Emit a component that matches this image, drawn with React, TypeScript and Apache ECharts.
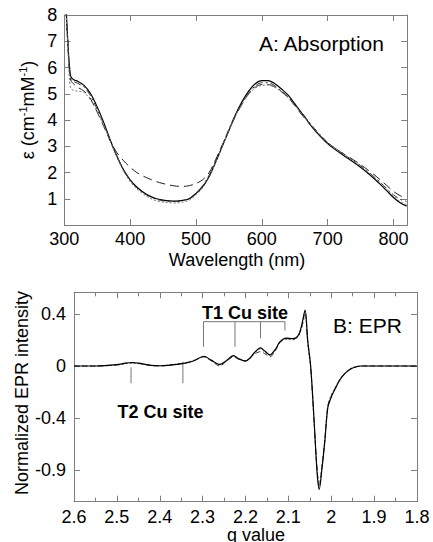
import React, { useEffect, useRef } from "react";
import * as echarts from "echarts";

// ---------- Panel A: absorption ----------
const wavelengths = [300, 302, 304, 306, 308, 310, 315, 320, 330, 340, 350, 360, 370, 380, 390, 400, 410, 420, 430, 440, 450, 460, 470, 480, 490, 500, 510, 520, 530, 540, 550, 560, 570, 580, 590, 600, 610, 620, 630, 640, 650, 660, 670, 680, 690, 700, 710, 720, 730, 740, 750, 760, 770, 780, 790, 800, 810, 820];
const absSolid = [8.8, 8.6, 7.6, 6.7, 6.0, 5.65, 5.52, 5.48, 5.32, 5.0, 4.5, 3.9, 3.22, 2.62, 2.1, 1.72, 1.45, 1.25, 1.1, 1.0, 0.95, 0.92, 0.91, 0.94, 1.0, 1.2, 1.45, 1.85, 2.4, 3.0, 3.6, 4.2, 4.7, 5.1, 5.38, 5.5, 5.5, 5.38, 5.18, 4.95, 4.62, 4.28, 3.95, 3.62, 3.35, 3.1, 2.9, 2.72, 2.55, 2.38, 2.2, 2.0, 1.78, 1.55, 1.3, 1.05, 0.85, 0.72];
const absDash = [8.8, 8.3, 7.5, 6.6, 5.8, 5.5, 5.35, 5.25, 5.1, 4.8, 4.3, 3.75, 3.2, 2.75, 2.45, 2.2, 2.0, 1.86, 1.75, 1.65, 1.58, 1.52, 1.48, 1.47, 1.5, 1.58, 1.72, 2.0, 2.5, 3.05, 3.6, 4.15, 4.6, 5.0, 5.25, 5.35, 5.35, 5.25, 5.08, 4.85, 4.55, 4.22, 3.92, 3.63, 3.37, 3.13, 2.95, 2.78, 2.62, 2.47, 2.3, 2.12, 1.93, 1.72, 1.5, 1.28, 1.12, 1.02];
const absDashDot = [8.8, 8.4, 7.5, 6.6, 5.9, 5.55, 5.45, 5.4, 5.25, 4.92, 4.4, 3.85, 3.2, 2.6, 2.1, 1.7, 1.42, 1.22, 1.08, 0.98, 0.92, 0.9, 0.9, 0.93, 1.02, 1.22, 1.5, 1.9, 2.45, 3.05, 3.65, 4.2, 4.65, 5.02, 5.3, 5.42, 5.42, 5.3, 5.1, 4.88, 4.58, 4.3, 3.98, 3.68, 3.4, 3.15, 2.95, 2.78, 2.6, 2.44, 2.26, 2.06, 1.85, 1.63, 1.38, 1.15, 0.98, 0.9];
const absDot = [8.8, 8.3, 7.4, 6.4, 5.5, 5.2, 5.12, 5.1, 5.05, 4.75, 4.3, 3.78, 3.18, 2.58, 2.05, 1.65, 1.38, 1.18, 1.02, 0.92, 0.87, 0.85, 0.84, 0.87, 0.95, 1.15, 1.42, 1.82, 2.38, 3.0, 3.6, 4.15, 4.6, 4.98, 5.22, 5.32, 5.33, 5.24, 5.06, 4.85, 4.56, 4.24, 3.95, 3.66, 3.38, 3.12, 2.93, 2.76, 2.58, 2.42, 2.24, 2.04, 1.82, 1.6, 1.35, 1.1, 0.9, 0.78];
const xTicksA = [300, 400, 500, 600, 700, 800];
const yTicksA = [1, 2, 3, 4, 5, 6, 7, 8];

// ---------- Panel B: EPR ----------
const gValues = [2.6, 2.55, 2.5, 2.48, 2.465, 2.45, 2.42, 2.4, 2.38, 2.36, 2.34, 2.32, 2.297, 2.28, 2.26, 2.245, 2.228, 2.215, 2.2, 2.19, 2.18, 2.165, 2.155, 2.143, 2.13, 2.12, 2.105, 2.09, 2.078, 2.07, 2.061, 2.055, 2.048, 2.04, 2.033, 2.028, 2.022, 2.015, 2.008, 2.0, 1.99, 1.98, 1.97, 1.96, 1.95, 1.93, 1.9, 1.85, 1.8];
const eprSolid = [0, 0, 0.01, 0.022, 0.027, 0.022, 0.005, 0.002, 0.005, 0.012, 0.022, 0.04, 0.075, 0.045, 0.012, 0.04, 0.08, 0.055, 0.038, 0.06, 0.1, 0.14, 0.115, 0.085, 0.13, 0.185, 0.215, 0.21, 0.23, 0.3, 0.43, 0.2, 0.0, -0.42, -0.82, -0.95, -0.8, -0.58, -0.32, -0.24, -0.17, -0.108, -0.065, -0.035, -0.015, 0, 0, 0, 0];
const eprDash = [0, 0, 0.008, 0.02, 0.025, 0.02, 0.004, 0.0, 0.006, 0.014, 0.024, 0.042, 0.07, 0.04, 0.0, 0.035, 0.07, 0.05, 0.04, 0.058, 0.09, 0.11, 0.095, 0.07, 0.12, 0.18, 0.21, 0.205, 0.225, 0.29, 0.41, 0.19, -0.01, -0.43, -0.8, -0.93, -0.79, -0.57, -0.31, -0.23, -0.165, -0.105, -0.062, -0.033, -0.013, 0, 0, 0, 0];
const eprDot = [0, 0, 0.006, 0.018, 0.02, 0.018, 0.004, 0.002, 0.008, 0.016, 0.026, 0.044, 0.07, 0.042, 0.008, 0.038, 0.075, 0.052, 0.04, 0.06, 0.095, 0.13, 0.105, 0.08, 0.125, 0.18, 0.205, 0.2, 0.22, 0.28, 0.38, 0.17, -0.02, -0.44, -0.8, -0.9, -0.77, -0.56, -0.3, -0.22, -0.16, -0.1, -0.06, -0.03, -0.01, 0, 0, 0, 0];
const xTicksB = [2.6, 2.5, 2.4, 2.3, 2.2, 2.1, 2.0, 1.9, 1.8];
const yTickValuesB = [0.4, 0, -0.4, -0.8];
const yTickLabelsB = ["0.4", "0", "-0.4", "-0.9"];

// hyperfine marker positions (g) and their line ends (intensity)
const t1G = [2.298, 2.2245, 2.165, 2.108];
const t1Ends = [0.148, 0.148, 0.213, 0.272];
const t1Bar = 0.341;
const t2G = [2.467, 2.346];
const t2Starts = [-0.01, 0.033];
const t2Ends = [-0.133, -0.133];

const FONT = "'Liberation Sans', Arial, Helvetica, sans-serif";
const FRAME = "#7f7f7f";

function frameAxis(extra: any) {
  return {
    type: "value",
    axisLine: { show: true, onZero: false, lineStyle: { color: FRAME, width: 1 } },
    axisTick: { show: true, inside: true, length: 6, lineStyle: { color: FRAME } },
    splitLine: { show: false },
    axisLabel: { show: false },
    ...extra,
  };
}

export default function App() {
  const ref = useRef<HTMLDivElement>(null);
  useEffect(() => {
    if (!ref.current) return;
    const chart = echarts.init(ref.current, null, { renderer: "svg" });
    const labelStyle = { color: "#000", fontSize: 18, fontFamily: FONT };

    const pair = (xs: number[], ys: number[]) => xs.map((x, i) => [x, ys[i]]);
    const absSeries = [
      { d: absSolid, color: "#000", type: "solid", w: 1.2 },
      { d: absDash, color: "#222", type: [9, 5], w: 1 },
      { d: absDashDot, color: "#333", type: [7, 3, 2, 3], w: 1 },
      { d: absDot, color: "#777", type: [2, 2], w: 1 },
    ].map((s) => ({
      type: "line",
      xAxisIndex: 0,
      yAxisIndex: 0,
      data: pair(wavelengths, s.d),
      showSymbol: false,
      smooth: 0.3,
      lineStyle: { color: s.color, width: s.w, type: s.type },
    }));
    const eprSeries = [
      { d: eprDot, color: "#888", type: [2, 2], w: 1 },
      { d: eprDash, color: "#333", type: [5, 3], w: 1 },
      { d: eprSolid, color: "#000", type: "solid", w: 1.2 },
    ].map((s) => ({
      type: "line",
      xAxisIndex: 2,
      yAxisIndex: 2,
      data: pair(gValues, s.d),
      showSymbol: false,
      smooth: 0.3,
      lineStyle: { color: s.color, width: s.w, type: s.type },
    }));
    const markerLine = (data: number[][]) => ({
      type: "line",
      xAxisIndex: 2,
      yAxisIndex: 2,
      data,
      showSymbol: false,
      silent: true,
      lineStyle: { color: "#777", width: 1 },
    });
    const markers = [
      markerLine([[t1G[0], t1Bar], [t1G[t1G.length - 1], t1Bar]]),
      ...t1G.map((g, i) => markerLine([[g, t1Bar], [g, t1Ends[i]]])),
      ...t2G.map((g, i) => markerLine([[g, t2Starts[i]], [g, t2Ends[i]]])),
    ];

    const option: any = {
      animation: false,
      backgroundColor: "#fff",
      grid: [
        { left: 64.3, top: 15, width: 343, height: 210 },
        { left: 74, top: 292.3, width: 343, height: 209.4 },
      ],
      xAxis: [
        frameAxis({
          gridIndex: 0, position: "bottom", min: 300, max: 821,
          axisLabel: { show: true, customValues: xTicksA, margin: 5, ...labelStyle },
          axisTick: { show: true, inside: true, length: 6, lineStyle: { color: FRAME }, customValues: xTicksA },
        }),
        frameAxis({
          gridIndex: 0, position: "top", min: 300, max: 821,
          axisTick: { show: true, inside: true, length: 6, lineStyle: { color: FRAME }, customValues: xTicksA },
        }),
        frameAxis({
          gridIndex: 1, position: "bottom", min: 1.8, max: 2.6, interval: 0.1, inverse: true,
          minorTick: { show: true, splitNumber: 2, length: 4, lineStyle: { color: FRAME } },
          axisLabel: {
            show: true, customValues: xTicksB, margin: 6, ...labelStyle,
            formatter: (v: number) => String(parseFloat(v.toFixed(1))),
          },
        }),
        frameAxis({
          gridIndex: 1, position: "top", min: 1.8, max: 2.6, interval: 0.1, inverse: true,
          minorTick: { show: true, splitNumber: 2, length: 4, lineStyle: { color: FRAME } },
        }),
      ],
      yAxis: [
        frameAxis({
          gridIndex: 0, position: "left", min: 0, max: 8, interval: 1,
          axisLabel: { show: true, customValues: yTicksA, margin: 7, ...labelStyle },
        }),
        frameAxis({ gridIndex: 0, position: "right", min: 0, max: 8, interval: 1 }),
        frameAxis({
          gridIndex: 1, position: "left", min: -1.044, max: 0.567,
          axisTick: { show: true, inside: true, length: 6, lineStyle: { color: FRAME }, customValues: yTickValuesB },
          axisLabel: {
            show: true, customValues: yTickValuesB, margin: 8, ...labelStyle,
            formatter: (v: number) => {
              const i = yTickValuesB.findIndex((t) => Math.abs(t - v) < 1e-6);
              return i >= 0 ? yTickLabelsB[i] : "";
            },
          },
        }),
        frameAxis({
          gridIndex: 1, position: "right", min: -1.044, max: 0.567,
          axisTick: { show: true, inside: true, length: 6, lineStyle: { color: FRAME }, customValues: yTickValuesB },
        }),
      ],
      graphic: [
        { type: "text", x: 259, y: 43, style: { text: "A: Absorption", font: `21px ${FONT}`, fill: "#000", align: "left", verticalAlign: "middle", textAlign: "left", textVerticalAlign: "middle" } },
        { type: "text", x: 333, y: 325, style: { text: "B: EPR", font: `21px ${FONT}`, fill: "#000", align: "left", verticalAlign: "middle", textAlign: "left", textVerticalAlign: "middle" } },
        { type: "text", x: 245, y: 313, style: { text: "T1 Cu site", font: `bold 18px ${FONT}`, fill: "#000", align: "center", verticalAlign: "middle", textAlign: "center", textVerticalAlign: "middle" } },
        { type: "text", x: 160.5, y: 412, style: { text: "T2 Cu site", font: `bold 18px ${FONT}`, fill: "#000", align: "center", verticalAlign: "middle", textAlign: "center", textVerticalAlign: "middle" } },
        { type: "text", x: 237, y: 260, style: { text: "Wavelength (nm)", font: `18px ${FONT}`, fill: "#000", align: "center", verticalAlign: "middle", textAlign: "center", textVerticalAlign: "middle" } },
        { type: "text", x: 256, y: 535, style: { text: "g value", font: `18px ${FONT}`, fill: "#000", align: "center", verticalAlign: "middle", textAlign: "center", textVerticalAlign: "middle" } },
        {
          type: "text", x: 27, y: 110, rotation: Math.PI / 2,
          style: {
            text: "{a|ε (cm}{b|-1}{a|mM}{b|-1}{a|)}",
            fill: "#000", align: "center", verticalAlign: "middle", textAlign: "center", textVerticalAlign: "middle",
            rich: {
              a: { fontSize: 18, fontFamily: FONT, fill: "#000", lineHeight: 20, verticalAlign: "bottom" },
              b: { fontSize: 11, fontFamily: FONT, fill: "#000", lineHeight: 12, verticalAlign: "top" },
            },
          },
        },
        { type: "text", x: 22, y: 393, rotation: Math.PI / 2, style: { text: "Normalized EPR intensity", font: `18px ${FONT}`, fill: "#000", align: "center", verticalAlign: "middle", textAlign: "center", textVerticalAlign: "middle" } },
      ],
      series: [...absSeries, ...markers, ...eprSeries],
    };
    chart.setOption(option);
    return () => chart.dispose();
  }, []);
  return (
    <div
      ref={ref}
      style={{ position: "fixed", left: 0, top: 0, width: 433, height: 542, background: "#fff" }}
    />
  );
}
